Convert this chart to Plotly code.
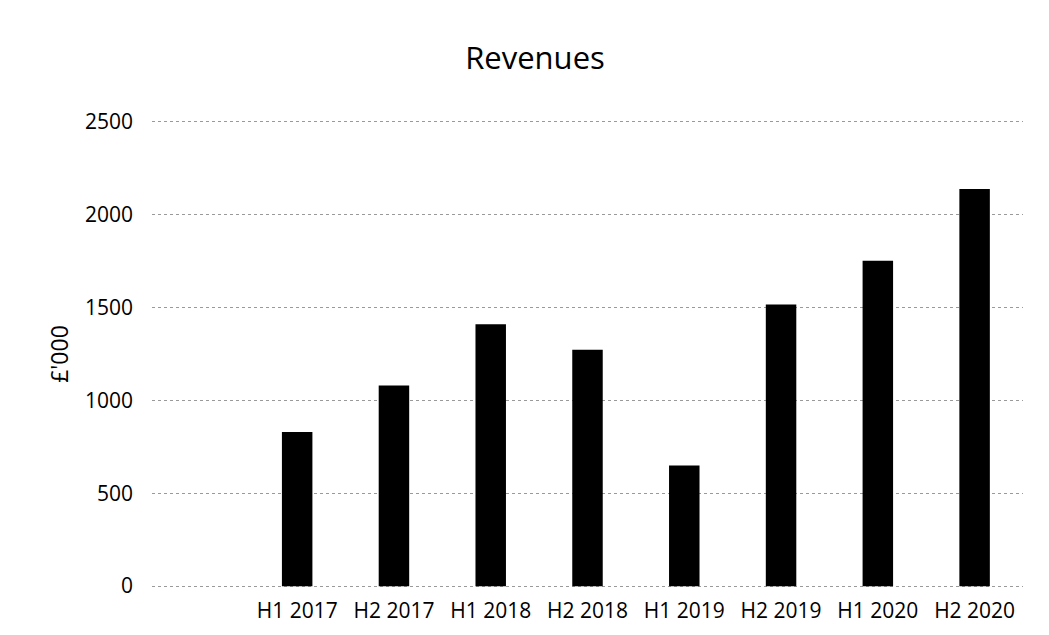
import plotly.graph_objects as go

categories = ["H1 2017", "H2 2017", "H1 2018", "H2 2018", "H1 2019", "H2 2019", "H1 2020", "H2 2020"]
revenues = [830, 1080, 1410, 1273, 650, 1516, 1752, 2139]
y_ticks = [0, 500, 1000, 1500, 2000, 2500]

font_family = "Open Sans, Lato, Liberation Sans, sans-serif"

fig = go.Figure()
fig.add_trace(go.Bar(
    x=categories,
    y=revenues,
    marker=dict(color="#000000", line=dict(width=0)),
    width=0.315,
))

fig.update_layout(
    width=1049,
    height=635,
    paper_bgcolor="white",
    plot_bgcolor="white",
    margin=dict(l=144, r=34, t=112, b=55),
    showlegend=False,
    font=dict(family=font_family, color="#000000", size=21),
    title=dict(
        text="Revenues",
        x=527 / 1049,
        xanchor="center",
        y=1 - 50 / 635,
        yanchor="middle",
        yref="container",
        font=dict(size=31, family=font_family, color="#000000"),
    ),
)

fig.update_xaxes(
    type="category",
    range=[-1.5, 7.5],
    showgrid=False,
    showline=False,
    ticks="",
    tickfont=dict(size=21),
    ticklabelstandoff=8,
)

fig.update_yaxes(
    range=[-10, 2510],
    tickvals=y_ticks,
    showgrid=True,
    gridcolor="#9a9a9a",
    gridwidth=1,
    griddash="dot",
    zeroline=False,
    showline=False,
    ticks="",
    tickfont=dict(size=21),
    ticklabelstandoff=18,
    title=dict(text="£'000", font=dict(size=23), standoff=9),
)

fig.write_html("out.html")
